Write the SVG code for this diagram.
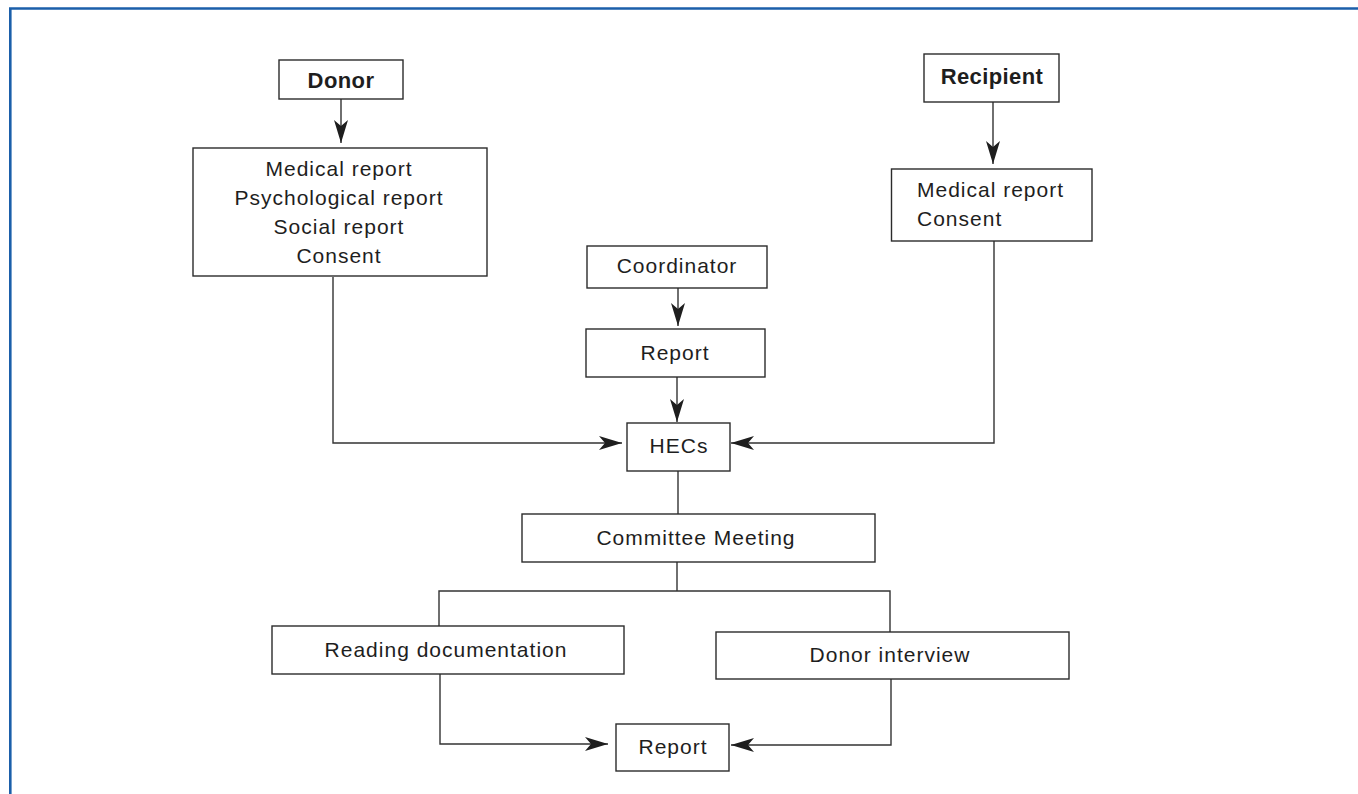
<svg xmlns="http://www.w3.org/2000/svg" width="1358" height="794" viewBox="0 0 1358 794">
<style>
.box{fill:#fff;stroke:#2b2b2b;stroke-width:1.4}
.t{font-family:"Liberation Sans",Arial,Helvetica,sans-serif;font-size:21px;letter-spacing:1px;fill:#1e1e1e}
.c{text-anchor:middle}
.b{font-weight:bold;font-size:22px;letter-spacing:0.4px}
.ln{fill:none;stroke:#333;stroke-width:1.4}
</style>
<defs>
<marker id="ah" viewBox="-24 -8 25 16" refX="0" refY="0" markerWidth="25" markerHeight="16" markerUnits="userSpaceOnUse" orient="auto">
<path d="M0,0 L-23,-7 L-17,0 L-23,7 Z" fill="#1e1e1e"/>
</marker>
</defs>
<rect width="1358" height="794" fill="#fff"/>
<path d="M10.3,794 V8.5 H1358" fill="none" stroke="#1b5faa" stroke-width="2.6"/>

<g id="connectors">
<path class="ln" d="M341,99 V143" marker-end="url(#ah)"/>
<path class="ln" d="M993,102 V164" marker-end="url(#ah)"/>
<path class="ln" d="M678,288 V326" marker-end="url(#ah)"/>
<path class="ln" d="M677,377 V422" marker-end="url(#ah)"/>
<path class="ln" d="M333,277 V443 H622" marker-end="url(#ah)"/>
<path class="ln" d="M994,241 V443 H731" marker-end="url(#ah)"/>
<path class="ln" d="M678,471 V514"/>
<path class="ln" d="M677,562 V591"/>
<path class="ln" d="M439,626 V591 H890 V632"/>
<path class="ln" d="M440,674 V744 H608" marker-end="url(#ah)"/>
<path class="ln" d="M891,679 V745 H731" marker-end="url(#ah)"/>
</g>

<g id="donor">
<rect class="box" x="279" y="60" width="124" height="39"/>
<text class="t c b" x="341" y="88">Donor</text>
</g>
<g id="donor-reports">
<rect class="box" x="193" y="148" width="294" height="128"/>
<text class="t c" x="339" y="176">Medical report</text>
<text class="t c" x="339" y="205">Psychological report</text>
<text class="t c" x="339" y="234">Social report</text>
<text class="t c" x="339" y="263">Consent</text>
</g>
<g id="recipient">
<rect class="box" x="924" y="54" width="135" height="48"/>
<text class="t c b" x="992" y="84">Recipient</text>
</g>
<g id="recipient-reports">
<rect class="box" x="891.5" y="169" width="200.5" height="72"/>
<text class="t" x="917" y="197">Medical report</text>
<text class="t" x="917" y="226">Consent</text>
</g>
<g id="coordinator">
<rect class="box" x="587" y="246" width="180" height="42"/>
<text class="t c" x="677" y="273">Coordinator</text>
</g>
<g id="coord-report">
<rect class="box" x="586" y="329" width="179" height="48"/>
<text class="t c" x="675" y="360">Report</text>
</g>
<g id="hecs">
<rect class="box" x="627" y="423" width="103" height="48"/>
<text class="t c" x="679" y="453">HECs</text>
</g>
<g id="committee">
<rect class="box" x="522" y="514" width="353" height="48"/>
<text class="t c" x="696" y="545">Committee Meeting</text>
</g>
<g id="reading">
<rect class="box" x="272" y="626" width="352" height="48"/>
<text class="t c" x="446" y="657">Reading documentation</text>
</g>
<g id="interview">
<rect class="box" x="716" y="632" width="353" height="47"/>
<text class="t c" x="890" y="662">Donor interview</text>
</g>
<g id="final-report">
<rect class="box" x="616" y="724" width="113" height="47"/>
<text class="t c" x="673" y="754">Report</text>
</g>
</svg>
